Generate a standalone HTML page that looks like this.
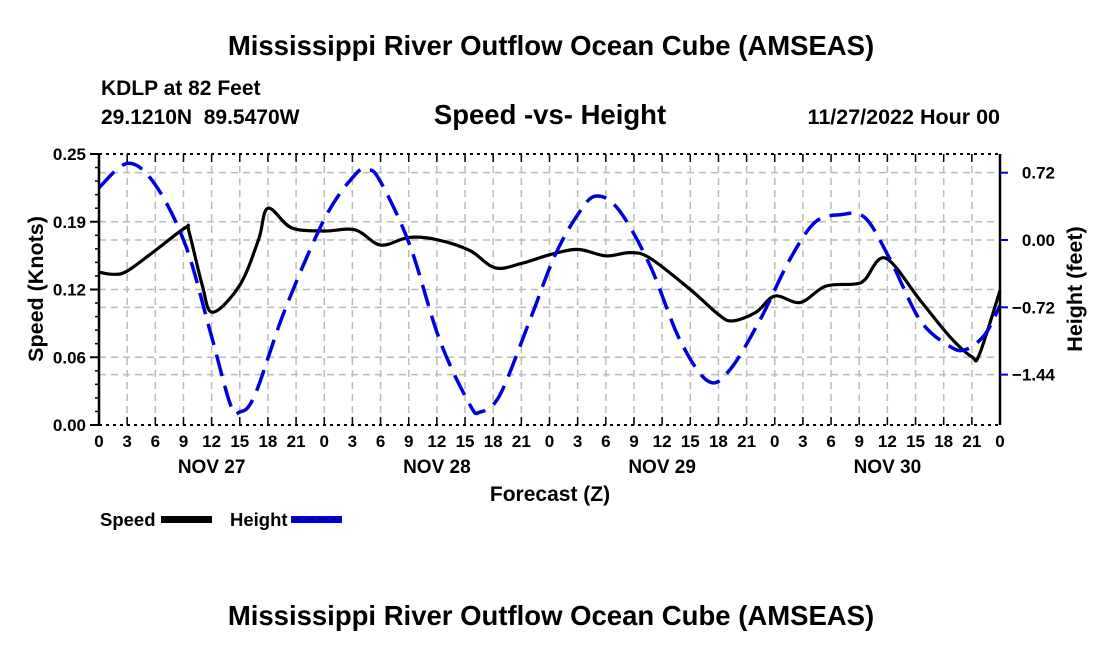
<!DOCTYPE html>
<html><head><meta charset="utf-8"><style>
body{margin:0;background:#fff;}
svg text{font-family:"Liberation Sans",Arial,sans-serif;font-weight:bold;fill:#000;}
</style></head><body>
<svg width="1100" height="650" xmlns="http://www.w3.org/2000/svg">
<text x="551" y="55" font-size="27.5" text-anchor="middle">Mississippi River Outflow Ocean Cube (AMSEAS)</text>
<text x="101" y="95" font-size="21">KDLP at 82 Feet</text>
<text x="101" y="124" font-size="21" xml:space="preserve">29.1210N  89.5470W</text>
<text x="550" y="124" font-size="27.5" text-anchor="middle">Speed -vs- Height</text>
<text x="1000" y="124" font-size="21.5" text-anchor="end">11/27/2022 Hour 00</text>
<g id="grid"></g>
<g id="marks"></g>
<g id="axes"></g>
<text x="550" y="501" font-size="21" text-anchor="middle">Forecast (Z)</text>
<text transform="translate(43,289) rotate(-90)" font-size="21.5" text-anchor="middle">Speed (Knots)</text>
<text transform="translate(1082,289) rotate(-90)" font-size="21.5" text-anchor="middle">Height (feet)</text>
<g>
<text x="100" y="526" font-size="18.5">Speed</text>
<rect x="161" y="516" width="51" height="7" fill="#000"/>
</g>
<g>
<text x="230" y="526" font-size="18.5">Height</text>
<rect x="291" y="516" width="51" height="7" fill="#0000dd"/>
<line x1="293" y1="519.5" x2="342" y2="519.5" stroke="#000060" stroke-width="1.5" stroke-dasharray="8,5"/>
</g>
<text x="551" y="625" font-size="27.5" text-anchor="middle">Mississippi River Outflow Ocean Cube (AMSEAS)</text>
</svg>
<script>
const speedHours=[0,1.5,3,6,9.2,9.6,11,12.1,15,17,18,20.5,24,27.3,30,33,36,39.5,42.2,45,48,51,54,56.6,58.7,63,66,67.5,70,72,74.7,77.4,80.5,81.6,83.8,87.5,90.7,93,93.8,96];
const speedValues=[0.141,0.139,0.142,0.161,0.182,0.178,0.129,0.104,0.129,0.171,0.200,0.182,0.179,0.180,0.166,0.173,0.171,0.161,0.145,0.149,0.157,0.162,0.156,0.159,0.154,0.125,0.102,0.096,0.104,0.119,0.113,0.128,0.130,0.134,0.154,0.115,0.081,0.063,0.065,0.124];
const heightHours=[0,3.1,6,9.2,11.8,14,15,16.6,19.8,24.1,27.3,28.6,29.9,33.1,36.3,39.5,40.6,42.7,45.9,48.6,51.2,53,55.4,58.7,61.9,64.9,67.2,70.4,73.6,76.3,79,81.6,84.3,87.5,90.7,92.4,94.4,96];
const heightValues=[0.56,0.82,0.59,-0.05,-0.96,-1.76,-1.84,-1.66,-0.75,0.24,0.70,0.75,0.64,-0.05,-1.07,-1.76,-1.84,-1.66,-0.86,-0.16,0.30,0.47,0.32,-0.27,-1.07,-1.51,-1.39,-0.86,-0.21,0.19,0.27,0.24,-0.21,-0.86,-1.14,-1.17,-1.01,-0.70];
const leftTicks=[0,0.0625,0.125,0.1875,0.25];
const leftTickLabels=["0.00","0.06","0.12","0.19","0.25"];
const rightTicks=[0.72,0,-0.72,-1.44];
const rightTickLabels=["0.72","0.00","\u22120.72","\u22121.44"];
const dayLabels=["NOV 27","NOV 28","NOV 29","NOV 30"];

const X0=99,X1=1000,Y0=425,Y1=154;
const xS=h=>X0+(X1-X0)*h/96;
const yL=v=>Y0-(Y0-Y1)*v/0.25;
const yR=v=>240-v*93.5;
const NS="http://www.w3.org/2000/svg";
function mk(tag,attrs,parent){const e=document.createElementNS(NS,tag);for(const k in attrs)e.setAttribute(k,attrs[k]);parent.appendChild(e);return e;}
const grid=document.getElementById('grid'),axes=document.getElementById('axes'),marks=document.getElementById('marks');
const gs={stroke:"#bbb","stroke-width":1.5,"stroke-dasharray":"7,5"};
for(let h=3;h<96;h+=3){mk('line',Object.assign({x1:xS(h),x2:xS(h),y1:Y1,y2:Y0},gs),grid);}
leftTicks.slice(1,4).forEach(v=>mk('line',Object.assign({x1:X0,x2:X1,y1:yL(v),y2:yL(v)},gs),grid));
rightTicks.forEach(v=>mk('line',Object.assign({x1:X0,x2:X1,y1:yR(v),y2:yR(v)},gs),grid));
mk('line',{x1:X0,x2:X0,y1:Y1,y2:Y0,stroke:"#000","stroke-width":2.5},axes);
mk('line',{x1:X1,x2:X1,y1:Y1,y2:Y0,stroke:"#000","stroke-width":2.5},axes);
mk('line',{x1:X0,x2:X1,y1:Y0,y2:Y0,stroke:"#000","stroke-width":2,"stroke-dasharray":"3,4"},axes);
mk('line',{x1:X0,x2:X1,y1:Y1,y2:Y1,stroke:"#000","stroke-width":2,"stroke-dasharray":"3,4"},axes);
for(let h=0;h<=96;h+=3){
 mk('line',{x1:xS(h),x2:xS(h),y1:Y0,y2:Y0-8,stroke:"#000","stroke-width":1.5},axes);
 mk('line',{x1:xS(h),x2:xS(h),y1:Y1,y2:Y1+8,stroke:"#000","stroke-width":1.5},axes);
 const t=mk('text',{x:xS(h),y:Y0+22,"font-size":17,"text-anchor":"middle"},axes);t.textContent=String(h%24);
 
 
}
for(let v=0;v<=0.25;v+=0.25/20){mk('line',{x1:X0-4,x2:X0,y1:yL(v),y2:yL(v),stroke:"#000","stroke-width":1.5},axes);}
leftTicks.forEach((v,i)=>{
 mk('line',{x1:X0-9,x2:X0,y1:yL(v),y2:yL(v),stroke:"#000","stroke-width":2},axes);
 const t=mk('text',{x:X0-13,y:yL(v)+6,"font-size":17,"text-anchor":"end"},axes);t.textContent=leftTickLabels[i];
 
 
});
rightTicks.forEach((v,i)=>{
 mk('line',{x1:X1,x2:X1+8,y1:yR(v),y2:yR(v),stroke:"#0000dd","stroke-width":2},axes);
 const t=mk('text',{x:X1+55,y:yR(v)+6,"font-size":17,"text-anchor":"end"},axes);t.textContent=rightTickLabels[i];
 
 
});
dayLabels.forEach((d,i)=>{
 const t=mk('text',{x:xS(i*24+12),y:Y0+48,"font-size":19,"text-anchor":"middle"},axes);t.textContent=d;
 
 
});
function smooth(pts){
 let d="M"+pts[0][0]+","+pts[0][1];
 for(let i=0;i<pts.length-1;i++){
  const p0=pts[Math.max(0,i-1)],p1=pts[i],p2=pts[i+1],p3=pts[Math.min(pts.length-1,i+2)];
  const c1=[p1[0]+(p2[0]-p0[0])/6,p1[1]+(p2[1]-p0[1])/6],c2=[p2[0]-(p3[0]-p1[0])/6,p2[1]-(p3[1]-p1[1])/6];
  d+=" C"+c1.join(",")+" "+c2.join(",")+" "+p2.join(",");
 }
 return d;
}
const sp=mk('path',{d:smooth(speedHours.map((h,i)=>[xS(h),yL(speedValues[i])])),fill:"none",stroke:"#000","stroke-width":3.2},marks);


const hp=mk('path',{d:smooth(heightHours.map((h,i)=>[xS(h),yR(heightValues[i])])),fill:"none",stroke:"#0000dd","stroke-width":3.5,"stroke-dasharray":"22,10"},marks);


</script>
</body></html>
